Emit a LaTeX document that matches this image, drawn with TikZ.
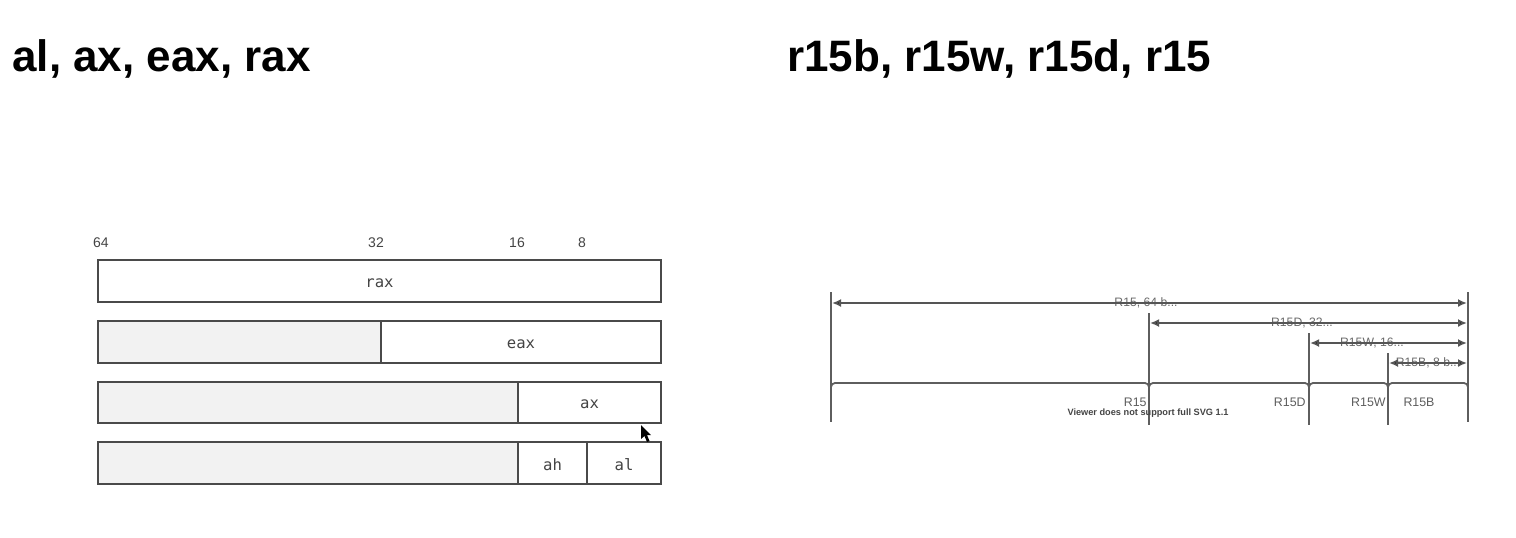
\documentclass[tikz,border=0pt]{standalone}
\usepackage{fontspec}
\setmainfont{Liberation Sans}
\newfontfamily\monofont{DejaVu Sans Mono}
\usetikzlibrary{arrows.meta}
\definecolor{boxline}{HTML}{4A4A4A}
\definecolor{greyfill}{HTML}{F2F2F2}
\definecolor{lbl}{HTML}{444444}
\definecolor{linegray}{HTML}{5E5E5E}
\definecolor{arrline}{HTML}{555555}
\definecolor{arrlbl}{HTML}{6A6A6A}
\tikzset{
  title/.style={anchor=base west, inner sep=0pt, font=\fontsize{22}{24}\selectfont\bfseries},
  bitlbl/.style={inner sep=0pt, text=lbl, font=\fontsize{7}{8}\selectfont},
  cell/.style={draw=boxline, line width=1pt, anchor=north west, minimum height=20.75pt, inner sep=0pt, fill=white},
  greycell/.style={cell, fill=greyfill},
  regtext/.style={text=lbl, font=\monofont\fontsize{7.8}{9}\selectfont},
  vline/.style={draw=linegray, line width=1pt},
  dimarrow/.style={draw=arrline, line width=1pt, {Latex[length=4.5pt,width=4pt,fill=black]}-{Latex[length=4.5pt,width=4pt,fill=black]}},
  dimlbl/.style={inner sep=0pt, text=arrlbl, font=\fontsize{6.1}{7}\selectfont},
  brk/.style={draw=linegray, line width=0.9pt, rounded corners=2pt},
  reglbl/.style={inner sep=0pt, text=linegray, font=\fontsize{6.2}{7}\selectfont},
}
\begin{document}
\begin{tikzpicture}[x=0.5pt,y=-0.5pt]
\useasboundingbox[fill=white] (0,0) rectangle (1516,537);

% titles
\node[title] (t1) at (12,71) {al, ax, eax, rax};
\node[title] (t2) at (787,71) {r15b, r15w, r15d, r15};

% bit labels
\node[bitlbl] (b64) at (101,243) {64};
\node[bitlbl] (b32) at (376,243) {32};
\node[bitlbl] (b16) at (517,243) {16};
\node[bitlbl] (b8)  at (582,243) {8};

% rax row
\node[cell, minimum width=281.5pt] (rax) at (97,259) {};
\node[regtext] (raxt) at ([yshift=-1pt]rax.center) {rax};
% eax row
\node[greycell, minimum width=141.5pt] (eaxg) at (97,320) {};
\node[cell, minimum width=140pt] (eax) at (380,320) {};
\node[regtext] (eaxt) at ([yshift=-1pt]eax.center) {eax};
% ax row
\node[greycell, minimum width=210pt] (axg) at (97,380.5) {};
\node[cell, minimum width=71.5pt] (ax) at (517,380.5) {};
\node[regtext] (axt) at ([yshift=-1pt]ax.center) {ax};
% ah/al row
\node[greycell, minimum width=210pt] (alg) at (97,441) {};
\node[cell, minimum width=34.5pt] (ah) at (517,441) {};
\node[cell, minimum width=37pt] (al) at (586,441) {};
\node[regtext] (aht) at ([yshift=-1pt]ah.center) {ah};
\node[regtext] (alt) at ([yshift=-1pt]al.center) {al};

% mouse cursor
\fill[black] (641,425) -- (641,439) -- (644.5,436) -- (647,442) -- (649.5,441) -- (647,435) -- (651,435) -- cycle;

% ---- right diagram ----
\coordinate (L0) at (831,292);
\coordinate (L0b) at (831,422);
\coordinate (R0) at (1468,292);
\coordinate (R0b) at (1468,422);
\coordinate (D0) at (1149,313);
\coordinate (D0b) at (1149,425);
\coordinate (W0) at (1309,333);
\coordinate (W0b) at (1309,425);
\coordinate (B0) at (1388,353);
\coordinate (B0b) at (1388,425);

\draw[vline] (L0) -- (L0b);
\draw[vline] (R0) -- (R0b);
\draw[vline] (D0) -- (D0b);
\draw[vline] (W0) -- (W0b);
\draw[vline] (B0) -- (B0b);

% arrow labels (under the lines)
\node[dimlbl] (l64) at (1146,303) {R15, 64 b...};
\node[dimlbl] (l32) at (1302,323) {R15D, 32...};
\node[dimlbl] (l16) at (1372,343) {R15W, 16...};
\node[dimlbl] (l8)  at (1428,363) {R15B, 8 b...};

\coordinate (a64l) at (832,303);  \coordinate (a64r) at (1467,303);
\coordinate (a32l) at (1150,323); \coordinate (a32r) at (1467,323);
\coordinate (a16l) at (1310,343); \coordinate (a16r) at (1467,343);
\coordinate (a8l)  at (1389,363); \coordinate (a8r)  at (1467,363);
\draw[dimarrow] (a64l) -- (a64r);
\draw[dimarrow] (a32l) -- (a32r);
\draw[dimarrow] (a16l) -- (a16r);
\draw[dimarrow] (a8l) -- (a8r);

% brackets
\draw[brk] (831,420) -- (831,383) -- (1149,383) -- (1149,420);
\draw[brk] (1149,420) -- (1149,383) -- (1309,383) -- (1309,420);
\draw[brk] (1309,420) -- (1309,383) -- (1388,383) -- (1388,420);
\draw[brk] (1388,420) -- (1388,383) -- (1468,383) -- (1468,420);

\node[reglbl, anchor=east] (n15) at (1147,402) {R15};
\node[reglbl, anchor=east] (n15d) at (1306,402) {R15D};
\node[reglbl, anchor=east] (n15w) at (1386,402) {R15W};
\node[reglbl] (n15b) at (1419,402) {R15B};
\node[inner sep=0pt, text=lbl, font=\fontsize{4.6}{5}\selectfont\bfseries] (svg) at (1148,413) {Viewer does not support full SVG 1.1};
\end{tikzpicture}
\end{document}
